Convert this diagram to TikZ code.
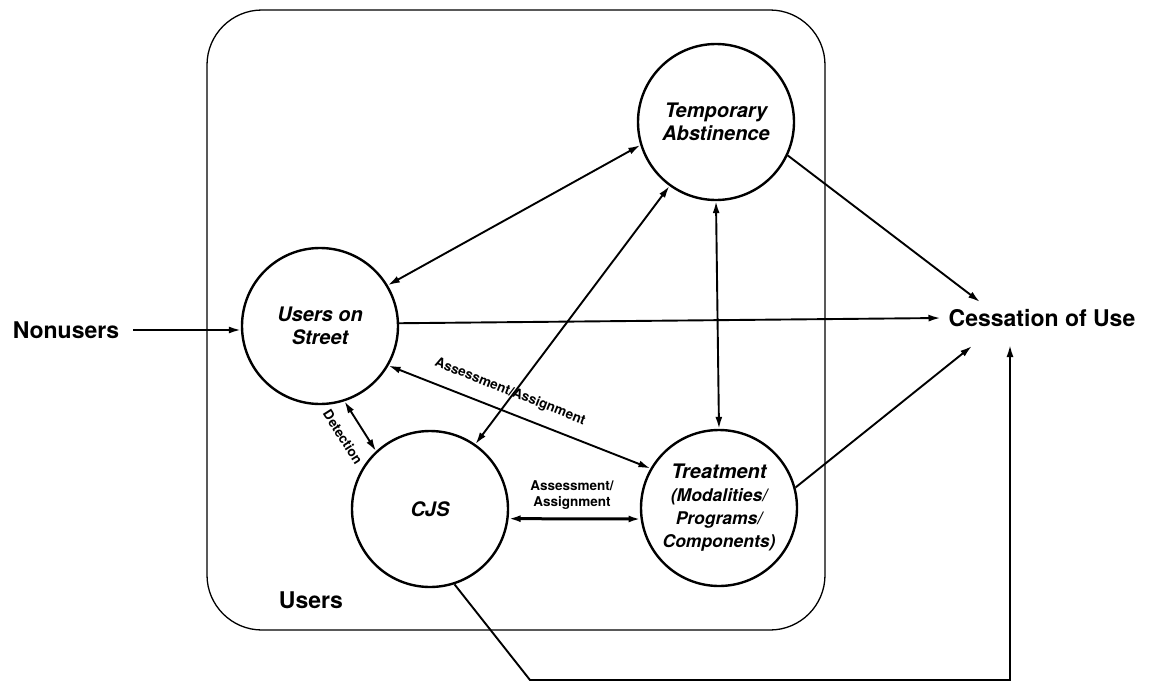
\documentclass[tikz,border=0pt]{standalone}
\usepackage{fontspec}
\setmainfont{TeX Gyre Heros}
\usetikzlibrary{arrows.meta}
\newcommand{\subfnt}{\fontsize{17.5}{21}\selectfont}
\begin{document}
\begin{tikzpicture}[x=1pt,y=-1pt,
  state/.style={draw, circle, line width=2.4pt, minimum size=156pt, inner sep=0pt,
    align=center, font=\bfseries\itshape\fontsize{20}{23}\selectfont},
  big/.style={font=\bfseries\fontsize{23}{27}\selectfont, inner ysep=0pt},
  small/.style={font=\bfseries\fontsize{13.5}{16}\selectfont, inner sep=0pt, align=center},
  tip/.tip={Latex[length=12pt,width=7pt]},
  flow/.style={line width=1.9pt, -tip},
  both/.style={line width=1.9pt, tip-tip},
]
\useasboundingbox (0,0) rectangle (1149,683);

% the population of users
\draw[line width=1.3pt, rounded corners=55pt] (207,10) rectangle (825,630);
\node[big, inner xsep=0pt] (ulab) at (311,600) {Users};

% states
\node[state] (ta)  at (716,122) {Temporary\\Abstinence};
\node[state] (us)  at (320,326) {Users on\\Street};
\node[state] (cjs) at (430,509) {CJS};
\node[state] (tr)  at (719,508) {Treatment\\{\subfnt (Modalities/}\\{\subfnt Programs/}\\{\subfnt Components)}};

% entry and exit
\node[big, inner xsep=14pt] (non) at (66,330) {Nonusers};
\node[big, inner xsep=8pt]  (ces) at (1042,318) {Cessation of Use};
\coordinate (cesA) at (980,302);
\coordinate (cesB) at (972,346);
\coordinate (cesC) at (1010,345);
\coordinate (bendA) at (530,680);
\coordinate (bendB) at (1010,680);

% flows into and out of the system
\draw[flow] (non.east) -- (non.east -| us.west);
\draw[flow] (us.2) -- (ces.west);
\draw[flow] (ta.-25) -- (cesA);
\draw[flow] (tr.15) -- (cesB);
\draw[flow] (cjs.-72) -- (bendA) -- (bendB) -- (cesC);

% transitions between states
\draw[both] (us.31) -- (ta.197);
\draw[both] (ta.south) -- (tr.north);
\draw[both] (cjs.55) -- (ta.234);
\draw[both] (us.-30) -- (tr.150);
\draw[both] (us.-72) -- (cjs.133);
\draw[both, line width=3pt] (cjs.-7) -- (tr.188);

% transition labels
\node[small, rotate=-21.5] (lab1) at (510,392) {Assessment/Assignment};
\node[small, rotate=-57.5] (lab2) at (343,437) {Detection};
\node[small] (lab3) at (572,495) {Assessment/\\Assignment};
\end{tikzpicture}
\end{document}
